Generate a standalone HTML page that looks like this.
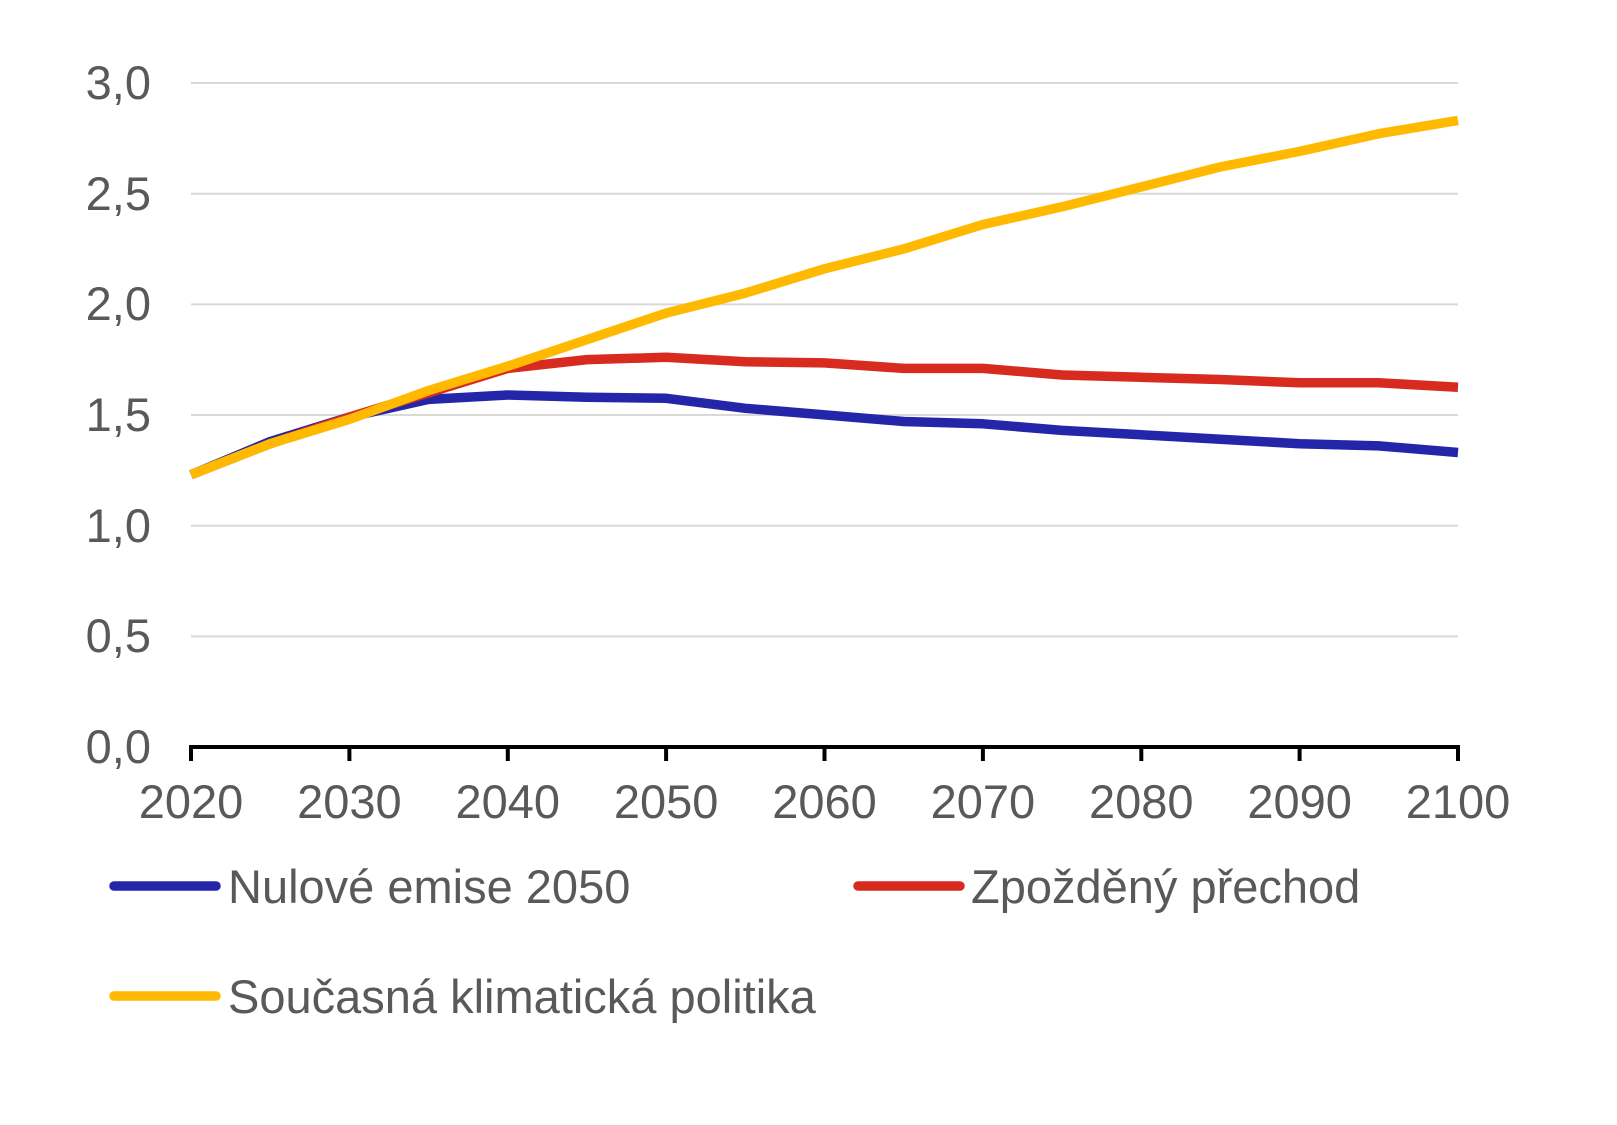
<!DOCTYPE html>
<html><head><meta charset="utf-8"><style>
html,body{margin:0;padding:0;background:#fff;}
svg{display:block;}
text{font-family:"Liberation Sans",Arial,sans-serif;fill:#595959;}
</style></head><body>
<svg width="1617" height="1125" viewBox="0 0 1617 1125" xmlns="http://www.w3.org/2000/svg">
<g stroke="#d9d9d9" stroke-width="2">
<line x1="191" y1="83" x2="1458" y2="83"/>
<line x1="191" y1="193.7" x2="1458" y2="193.7"/>
<line x1="191" y1="304.4" x2="1458" y2="304.4"/>
<line x1="191" y1="415" x2="1458" y2="415"/>
<line x1="191" y1="525.7" x2="1458" y2="525.7"/>
<line x1="191" y1="636.4" x2="1458" y2="636.4"/>
</g>
<g font-size="47" text-anchor="end">
<text x="151" y="99">3,0</text>
<text x="151" y="210">2,5</text>
<text x="151" y="320">2,0</text>
<text x="151" y="431">1,5</text>
<text x="151" y="542">1,0</text>
<text x="151" y="652">0,5</text>
<text x="151" y="763">0,0</text>
</g>
<g stroke="#000" stroke-width="4" fill="none">
<line x1="189" y1="747" x2="1460" y2="747"/>
<line x1="191" y1="745" x2="191" y2="761"/>
<line x1="349.4" y1="745" x2="349.4" y2="761"/>
<line x1="507.8" y1="745" x2="507.8" y2="761"/>
<line x1="666.1" y1="745" x2="666.1" y2="761"/>
<line x1="824.5" y1="745" x2="824.5" y2="761"/>
<line x1="982.9" y1="745" x2="982.9" y2="761"/>
<line x1="1141.3" y1="745" x2="1141.3" y2="761"/>
<line x1="1299.6" y1="745" x2="1299.6" y2="761"/>
<line x1="1458" y1="745" x2="1458" y2="761"/>
</g>
<g font-size="47" text-anchor="middle">
<text x="191" y="818">2020</text>
<text x="349.4" y="818">2030</text>
<text x="507.8" y="818">2040</text>
<text x="666.1" y="818">2050</text>
<text x="824.5" y="818">2060</text>
<text x="982.9" y="818">2070</text>
<text x="1141.3" y="818">2080</text>
<text x="1299.6" y="818">2090</text>
<text x="1458" y="818">2100</text>
</g>
<g fill="none" stroke-width="9.5" stroke-linejoin="round">
<polyline stroke="#2426a9" points="191,474.7 270.2,441.5 349.4,417.1 428.6,399.4 507.8,395 587,397.2 666.1,398.3 745.3,408.3 824.5,414.9 903.7,421.5 982.9,423.8 1062.1,430.4 1141.3,434.8 1220.4,439.3 1299.6,443.7 1378.8,445.9 1458,452.5"/>
<polyline stroke="#d72b1f" points="191,474.7 270.2,443.7 349.4,417.1 428.6,392.8 507.8,368.4 587,359.6 666.1,357.3 745.3,361.8 824.5,362.9 903.7,368.4 982.9,368.4 1062.1,375 1141.3,377.3 1220.4,379.5 1299.6,382.8 1378.8,382.8 1458,387.2"/>
<polyline stroke="#ffb900" points="191,474.7 270.2,443.7 349.4,419.3 428.6,390.5 507.8,366.2 587,339.6 666.1,313.1 745.3,293.1 824.5,268.8 903.7,248.9 982.9,224.5 1062.1,206.8 1141.3,186.9 1220.4,166.9 1299.6,151.4 1378.8,133.7 1458,120.4"/>
</g>
<g stroke-width="9.5" stroke-linecap="round">
<line x1="114" y1="886" x2="216" y2="886" stroke="#2426a9"/>
<line x1="858" y1="886" x2="960" y2="886" stroke="#d72b1f"/>
<line x1="114" y1="996" x2="216" y2="996" stroke="#ffb900"/>
</g>
<g font-size="47">
<text x="228" y="903">Nulové emise 2050</text>
<text x="971" y="903">Zpožděný přechod</text>
<text x="228" y="1013">Současná klimatická politika</text>
</g>
</svg>
</body></html>
